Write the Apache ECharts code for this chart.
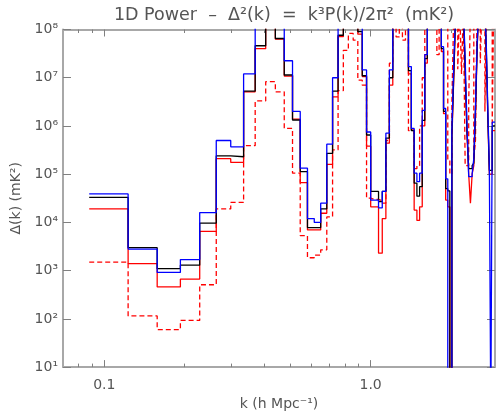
<!DOCTYPE html>
<html>
<head>
<meta charset="utf-8">
<script src="https://cdn.jsdelivr.net/npm/echarts@6/dist/echarts.min.js"></script>
<style>
html, body { margin: 0; padding: 0; background: #fff; }
#main { width: 496px; height: 416px; }
</style>
</head>
<body>
<div id="main"></div>
<script>
// bin edges in k (h Mpc^-1), one more than the number of bins
var kEdges = [0.0878, 0.1229, 0.1580, 0.1931, 0.2282, 0.2633, 0.2984, 0.3335, 0.3686, 0.4037,
    0.4388, 0.4739, 0.5090, 0.5441, 0.5792, 0.6143, 0.6494, 0.6845, 0.7196, 0.7547,
    0.7898, 0.8249, 0.8600, 0.8951, 0.9302, 0.9653, 1.0004, 1.0355, 1.0706, 1.1057,
    1.1408, 1.1759, 1.2110, 1.2461, 1.2812, 1.3163, 1.3514, 1.3865, 1.4216, 1.4567,
    1.4918, 1.5269, 1.5620, 1.5971, 1.6322, 1.6673, 1.7024, 1.7375, 1.7726, 1.8077,
    1.8428, 1.8779, 1.9130, 1.9481, 1.9832, 2.0183, 2.0534, 2.0885, 2.1236, 2.1587,
    2.1938, 2.2289, 2.2640, 2.2991, 2.3342, 2.3693, 2.4044, 2.4395, 2.4746, 2.5097,
    2.5448, 2.5799, 2.6150, 2.6501, 2.6852, 2.7203, 2.7554, 2.7905, 2.8256, 2.8607,
    2.8958, 2.9309];

// Delta^2(k) per bin (mK^2); 3e8 = off the top, 1 = negative (drawn to the floor)
var blueVals = [3.9e4, 2.8e3, 920, 1.7e3, 1.6e4, 5e5, 3.7e5, 1.2e7, 3e8, 3e8,
    3e8, 2.25e7, 2e6, 1.33e5, 1.2e4, 1e4, 2.5e4, 4.2e5, 1e7, 3e8,
    3e8, 3e8, 3e8, 3e8, 1.45e7, 7.5e5, 2.9e4, 2.9e4, 2e4, 4.4e4,
    7.1e5, 1.45e7, 3e8, 3e8, 3e8, 3e8, 3e8, 1.7e7, 8.9e5, 1.05e5,
    7e4, 1.05e5, 2.1e6, 3e7, 3e8, 3e8, 3e8, 3e8, 3e8, 3e8,
    4.4e7, 2.3e6, 8e4, 1, 1, 8.3e5, 2.3e7, 3e8, 3e8, 3e8,
    3e8, 3e8, 2.5e7, 1.1e6, 8.9e4, 8.9e4, 1e5, 2.1e5, 2.5e6, 4.8e7,
    3e8, 3e8, 3e8, 3e8, 3e8, 4e7, 2e6, 1.4e5, 1, 1.2e6,
    1.2e6];
var blackVals = [3.3e4, 3e3, 1.1e3, 1.3e3, 9.7e3, 2.4e5, 2.3e5, 5.3e6, 4.6e7, 3e8,
    6.5e7, 1.14e7, 1.33e6, 1.13e5, 7.8e3, 7.8e3, 1.9e4, 2.7e5, 5.3e6, 7.6e7,
    3e8, 3e8, 3e8, 9e7, 1.1e7, 6.5e5, 4.4e4, 4.4e4, 2.7e4, 4.4e4,
    5.6e5, 1e7, 3e8, 3e8, 3e8, 3e8, 3e8, 1.4e7, 8e5, 6.5e4,
    3.5e4, 5.5e4, 1.3e6, 2.5e7, 3e8, 3e8, 3e8, 3e8, 3e8, 3e8,
    4e7, 2e6, 5e4, 4.5e4, 1, 7e5, 1.3e7, 3e8, 3e8, 3e8,
    3e8, 3e8, 1.5e7, 8e5, 1.3e5, 1.3e5, 1.5e5, 1.7e5, 2e6, 4e7,
    3e8, 3e8, 3e8, 3e8, 3e8, 3e7, 1.5e6, 1.2e5, 1.2e5, 1e6,
    1e6];
var redVals = [1.9e4, 1.4e3, 460, 670, 6.5e3, 2.1e5, 1.75e5, 5.1e6, 4e7, 3e8,
    6.3e7, 1.08e7, 1.38e6, 6.7e4, 7e3, 7e3, 1.55e4, 1.6e5, 4e6, 7.1e7,
    3e8, 3e8, 3e8, 8e7, 1.05e7, 3.8e5, 2.1e4, 2.1e4, 2.3e3, 1.2e4,
    4.4e5, 7e6, 3e8, 3e8, 3e8, 3e8, 3e8, 1.2e7, 8.3e5, 1.8e4,
    1.1e4, 2.1e4, 1e6, 2e7, 3e8, 3e8, 3e8, 3e8, 3e8, 3e8,
    3.5e7, 1.8e6, 2.9e4, 2.1e4, 1, 5e5, 1.2e7, 3e8, 3e8, 3e8,
    3e8, 3e8, 1.2e7, 7e5, 1e5, 2.5e4, 1e5, 1.5e5, 1.5e6, 3.5e7,
    3e8, 3e8, 3e8, 3e8, 3e8, 2.5e7, 1.3e6, 1e5, 1e5, 8e5,
    8e5];
var dashVals = [1.5e3, 115, 60, 93, 510, 1.9e4, 2.6e4, 3.9e5, 3.3e6, 8.3e6,
    5.1e6, 8.9e5, 1.05e5, 5.3e3, 1.85e3, 2.1e3, 2.7e3, 1.3e4, 3.2e5, 5.4e6,
    3.7e7, 8.3e7, 6e7, 8.9e6, 7e6, 3.2e4, 3e4, 3e4, 2.8e4, 2.5e4,
    5e5, 2e7, 3e8, 7e7, 3e8, 6e7, 3e8, 8e5, 8e5, 1.3e5,
    1.5e5, 1e6, 1e7, 3e8, 3e8, 3e8, 3e8, 3e8, 3e7, 3e8,
    3e8, 3e8, 3e8, 2e5, 1e5, 3e6, 3e8, 3e8, 1.5e7, 3e8,
    1.2e7, 3e8, 1.5e5, 1.5e5, 3e6, 3e8, 3e8, 2e5, 5e5, 3e8,
    3e8, 2e7, 3e8, 3e8, 2e6, 3e8, 3e8, 3e8, 3e8, 1e6,
    3e8];

var xMajor = [0.1, 1];
var xMinor = [0.08, 0.09, 0.2, 0.3, 0.4, 0.5, 0.6, 0.7, 0.8, 0.9, 2];

var textColor = '#555';
var tickColor = '#808080';
var frameColor = '#a8a8a8';
var fontName = 'DejaVu Sans';
var supDigits = { '0': '⁰', '1': '¹', '2': '²', '3': '³', '4': '⁴', '5': '⁵', '6': '⁶', '7': '⁷', '8': '⁸', '9': '⁹' };

// histogram steps: value i spans kEdges[i]..kEdges[i+1]
function stepData(vals) {
    var out = [];
    for (var i = 0; i < vals.length; i++) {
        out.push([kEdges[i], vals[i]]);
    }
    out.push([kEdges[vals.length], vals[vals.length - 1]]);
    return out;
}

function makeSeries(name, vals, color, dashed) {
    return {
        name: name,
        type: 'line',
        step: 'end',
        data: stepData(vals),
        xAxisIndex: 0,
        yAxisIndex: 0,
        showSymbol: false,
        symbol: 'none',
        clip: true,
        lineStyle: { color: color, width: 1.3, type: dashed ? [5, 3] : 'solid' }
    };
}

function xAxisDef(pos, ticks, len, labels, line) {
    return {
        type: 'log',
        logBase: 10,
        min: 0.07,
        max: 2.93,
        position: pos,
        axisLine: { show: line, lineStyle: { color: frameColor, width: 2 } },
        splitLine: { show: false },
        axisTick: { show: true, inside: true, length: len, customValues: ticks, lineStyle: { color: tickColor, width: 1 } },
        axisLabel: labels ? {
            show: true,
            customValues: ticks,
            margin: 11,
            color: textColor,
            fontFamily: fontName,
            fontSize: 14,
            formatter: function (v) { return v < 0.5 ? '0.1' : '1.0'; }
        } : { show: false }
    };
}

function yAxisDef(pos, labels) {
    return {
        type: 'log',
        logBase: 10,
        min: 10,
        max: 1e8,
        interval: 1,
        position: pos,
        axisLine: { show: true, lineStyle: { color: frameColor, width: 2 } },
        splitLine: { show: false },
        axisTick: { show: true, inside: true, length: 8, lineStyle: { color: tickColor, width: 1 } },
        axisLabel: labels ? {
            show: true,
            margin: 5,
            color: textColor,
            fontFamily: fontName,
            fontSize: 14,
            padding: [0, 0, 14, 0],
            formatter: function (v) {
                var e = String(Math.round(Math.log(v) / Math.LN10));
                return '10' + supDigits[e];
            }
        } : { show: false }
    };
}

var myChart = echarts.init(document.getElementById('main'), null, { renderer: 'canvas' });

var xBottom = xAxisDef('bottom', xMajor, 7, true, true);
xBottom.name = 'k (h Mpc⁻¹)';
xBottom.nameLocation = 'middle';
xBottom.nameGap = 29;
xBottom.nameTextStyle = { color: textColor, fontFamily: fontName, fontSize: 14 };

var yLeft = yAxisDef('left', true);
yLeft.name = 'Δ(k) (mK²)';
yLeft.nameLocation = 'middle';
yLeft.nameRotate = 90;
yLeft.nameGap = 30;
yLeft.nameTextStyle = { color: textColor, fontFamily: fontName, fontSize: 14 };

var option = {
    animation: false,
    backgroundColor: '#fff',
    title: {
        text: '1D Power  –  Δ²(k)  =  k³P(k)/2π²  (mK²)',
        left: 279,
        textAlign: 'center',
        top: 1,
        textStyle: { color: textColor, fontFamily: fontName, fontSize: 17.5, fontWeight: 'normal' }
    },
    grid: {
        left: 63,
        right: 1,
        top: 29.5,
        bottom: 48.5,
        show: false
    },
    xAxis: [
        xBottom,
        xAxisDef('bottom', xMinor, 3.5, false, false),
        xAxisDef('top', xMajor, 7, false, true),
        xAxisDef('top', xMinor, 3.5, false, false)
    ],
    yAxis: [
        yLeft,
        yAxisDef('right', false)
    ],
    series: [
        makeSeries('dashed', dashVals, '#ff0000', true),
        makeSeries('red', redVals, '#ff0000', false),
        makeSeries('black', blackVals, '#000000', false),
        makeSeries('blue', blueVals, '#0000ff', false)
    ]
};
myChart.setOption(option);
</script>
</body>
</html>
